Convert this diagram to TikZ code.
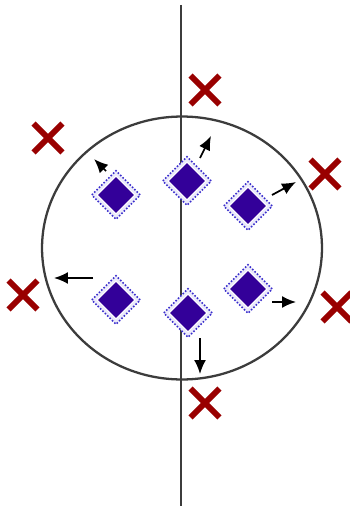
\documentclass[tikz,border=0pt]{standalone}
\usepackage{tikz}
\usetikzlibrary{arrows.meta,shapes.geometric,shapes.misc}
\definecolor{axisgray}{HTML}{3C3C3C}
\definecolor{gemblue}{HTML}{330099}
\definecolor{ringblue}{HTML}{3A2ECC}
\definecolor{crossred}{HTML}{990000}

\begin{document}
\begin{tikzpicture}[
  x=0.02cm,
  y=-0.02cm,
  gemring/.style={diamond, draw=ringblue, densely dotted, line width=0.9pt,
    fill=ringblue!10, inner sep=0pt, minimum size=0.98cm},
  gemcore/.style={diamond, fill=gemblue, draw=white, line width=0.6pt,
    inner sep=0pt, minimum size=0.76cm},
  miss/.style={cross out, draw=crossred, line width=3.4pt, inner sep=0pt,
    minimum size=0.46cm},
  push/.style={-{Latex[length=2.8mm,width=2.4mm]}, draw=black, line width=1pt}
]
\useasboundingbox (0,0) rectangle (349,506);

% Boundary and axis
\node[ellipse, draw=axisgray, line width=1.3pt, inner sep=0pt,
      minimum width=5.60cm, minimum height=5.26cm] (field) at (182,248) {};
\coordinate (axistop) at (181,5);
\coordinate (axisbot) at (181,506);
\draw[draw=axisgray, line width=1.4pt] (axistop) -- (axisbot);

% Diamonds inside the boundary
\foreach \n/\x/\y in {d1/116/195, d2/187/181, d3/248/206,
                      d4/116/300, d5/188/313, d6/248/289} {
  \node[gemring] (\n) at (\x,\y) {};
  \node[gemcore] (\n c) at (\n) {};
}

% Crosses outside the boundary
\foreach \n/\x/\y in {x1/205/90, x2/48/138, x3/325/174,
                      x4/23/295, x5/337/307, x6/205/403} {
  \node[miss] (\n) at (\x,\y) {};
}

% Outward pushes
\coordinate (a1s) at (106,171); \coordinate (a1e) at (94,159);
\coordinate (a2s) at (200,158); \coordinate (a2e) at (211,136);
\coordinate (a3s) at (272,195); \coordinate (a3e) at (296,182);
\coordinate (a4s) at (93,278);  \coordinate (a4e) at (54,278);
\coordinate (a5s) at (272,302); \coordinate (a5e) at (296,302);
\coordinate (a6s) at (200,338); \coordinate (a6e) at (200,374);
\foreach \i in {1,...,6} {
  \draw[push] (a\i s) -- (a\i e);
}
\end{tikzpicture}
\end{document}
